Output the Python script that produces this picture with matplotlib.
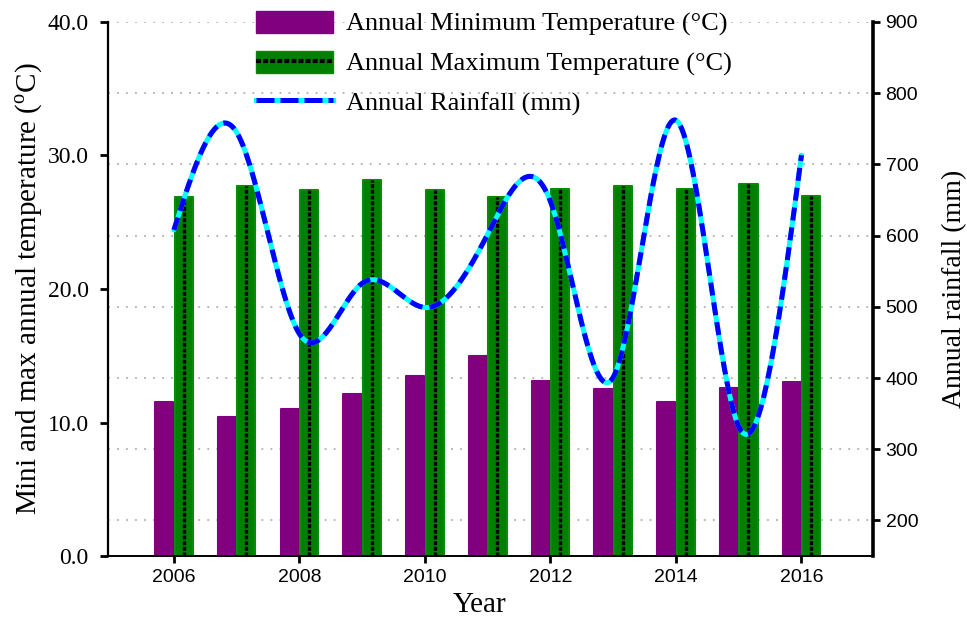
import numpy as np
import matplotlib
matplotlib.use("Agg")
import matplotlib.pyplot as plt
import matplotlib.patches as mpatches
from matplotlib.lines import Line2D
from matplotlib.legend_handler import HandlerTuple

plt.rcParams['font.family'] = ['Liberation Serif', 'DejaVu Serif']
plt.rcParams['mathtext.fontset'] = 'custom'
plt.rcParams['mathtext.rm'] = 'Liberation Serif'

years = [2006, 2007, 2008, 2009, 2010, 2011, 2012, 2013, 2014, 2015, 2016]
t_min = [11.5, 10.4, 11.0, 12.1, 13.5, 15.0, 13.1, 12.5, 11.5, 12.6, 13.0]
t_max = [26.9, 27.7, 27.4, 28.2, 27.4, 26.9, 27.5, 27.7, 27.5, 27.9, 27.0]
rain = [608, 745, 462, 533, 499, 602, 648, 401, 762, 332, 713]

temp_ticks = [0, 10, 20, 30, 40]
rain_ticks = [200, 300, 400, 500, 600, 700, 800, 900]
year_ticks = [2006, 2008, 2010, 2012, 2014, 2016]

T_LIM = (0, 40)
R_LIM = (150, 900)
SANS = 'Liberation Sans'


def natural_spline(x, y, n=400):
    """Natural cubic spline through (x, y), sampled at n points."""
    x = np.asarray(x, float)
    y = np.asarray(y, float)
    h = np.diff(x)
    m = len(x)
    A = np.zeros((m, m))
    b = np.zeros(m)
    A[0, 0] = A[-1, -1] = 1
    for i in range(1, m - 1):
        A[i, i - 1] = h[i - 1]
        A[i, i] = 2 * (h[i - 1] + h[i])
        A[i, i + 1] = h[i]
        b[i] = 6 * ((y[i + 1] - y[i]) / h[i] - (y[i] - y[i - 1]) / h[i - 1])
    M = np.linalg.solve(A, b)
    xs = np.linspace(x[0], x[-1], n)
    k = np.clip(np.searchsorted(x, xs) - 1, 0, m - 2)
    dx = xs - x[k]
    hk = h[k]
    a = y[k]
    c1 = (y[k + 1] - y[k]) / hk - hk * (2 * M[k] + M[k + 1]) / 6
    ys = a + c1 * dx + M[k] / 2 * dx ** 2 + (M[k + 1] - M[k]) / (6 * hk) * dx ** 3
    return xs, ys


fig = plt.figure(figsize=(9.67, 6.28), dpi=100)
ax = fig.add_axes([0.1117, 0.1146, 0.7911, 0.8504])
ax2 = ax.twinx()

ax.set_xlim(2004.95, 2017.14)
ax.set_ylim(*T_LIM)
ax2.set_ylim(*R_LIM)

# dotted grid follows the rainfall ticks but sits under the bars
for r in rain_ticks:
    t = (r - R_LIM[0]) / (R_LIM[1] - R_LIM[0]) * (T_LIM[1] - T_LIM[0]) + T_LIM[0]
    ax.axhline(t, color='#b0b0b0', lw=1.3, ls=(0, (1, 4)), zorder=0)

x = np.array(years, float)
w = 0.29
ax.bar(x - w / 2 - 0.01, t_min, width=w, color='#800080', edgecolor='#800080',
       lw=1.5, joinstyle='round', zorder=2, clip_on=False)
ax.bar(x + w / 2 + 0.01, t_max, width=w, color='#008000', edgecolor='#0a8a0a',
       lw=1.5, joinstyle='round', zorder=2, clip_on=False)
ax.vlines(x + w / 2 + 0.01, 0, t_max, color='k', lw=2.4,
          linestyles=[(0, (1.2, 0.5))], zorder=3)

xs, ys = natural_spline(years, rain)
ax2.plot(xs, ys, color='#00ffff', lw=3.6, solid_capstyle='round', zorder=3)
ax2.plot(xs, ys, color='#0000ff', lw=3.6, ls=(0, (2.6, 1.4)), zorder=4)

# axes styling
for a in (ax, ax2):
    a.spines['top'].set_visible(False)
ax2.spines['left'].set_visible(False)
ax2.spines['bottom'].set_visible(False)
ax.spines['right'].set_visible(False)
ax.spines['left'].set_linewidth(1.6)
ax.spines['bottom'].set_linewidth(1.4)
ax2.spines['right'].set_linewidth(2.6)

ax.set_xticks(year_ticks)
ax.set_xticklabels([str(y) for y in year_ticks], fontfamily=SANS, fontsize=14)
ax.set_yticks(temp_ticks)
ax.set_yticklabels(['%.1f' % v for v in temp_ticks], fontsize=17)
ax2.set_yticks(rain_ticks)
ax2.set_yticklabels([str(v) for v in rain_ticks], fontfamily=SANS, fontsize=14)

ax.tick_params(axis='x', direction='out', length=5, width=2, pad=4)
ax.tick_params(axis='y', direction='out', length=5.5, width=2, pad=8.5)
ax2.tick_params(axis='y', direction='out', length=5, width=2, pad=4)

ax.set_xlabel('Year', fontsize=21)
ax.xaxis.set_label_coords(0.486, -0.068)
ax.set_ylabel(r'Mini and max annual temperature ($^{\mathrm{o}}$C)', fontsize=21)
ax.yaxis.set_label_coords(-0.083, 0.5)
ax2.set_ylabel('Annual rainfall (mm)', fontsize=20)
ax2.yaxis.set_label_coords(1.09, 0.5)

h_min = mpatches.Patch(facecolor='#800080', edgecolor='#800080')
h_max = (mpatches.Patch(facecolor='#008000', edgecolor='#0a8a0a'),
         Line2D([], [], color='k', lw=3, ls=(0, (1.2, 0.5))))
h_rain = (Line2D([], [], color='#00ffff', lw=3.6),
          Line2D([], [], color='#0000ff', lw=3.6, ls=(0, (3.6, 1.2))))
ax2.legend([h_min, h_max, h_rain],
           ['Annual Minimum Temperature (°C)',
            'Annual Maximum Temperature (°C)',
            'Annual Rainfall (mm)'],
           handler_map={tuple: HandlerTuple(ndivide=1, pad=0)},
           loc='upper left', bbox_to_anchor=(256 / 967, 1 - 11 / 628),
           bbox_transform=fig.transFigure, frameon=False, fontsize=19,
           handlelength=2.9, handleheight=0.9, handletextpad=0.5,
           labelspacing=0.54, borderpad=0, borderaxespad=0)

fig.savefig('out.png', dpi=100)
